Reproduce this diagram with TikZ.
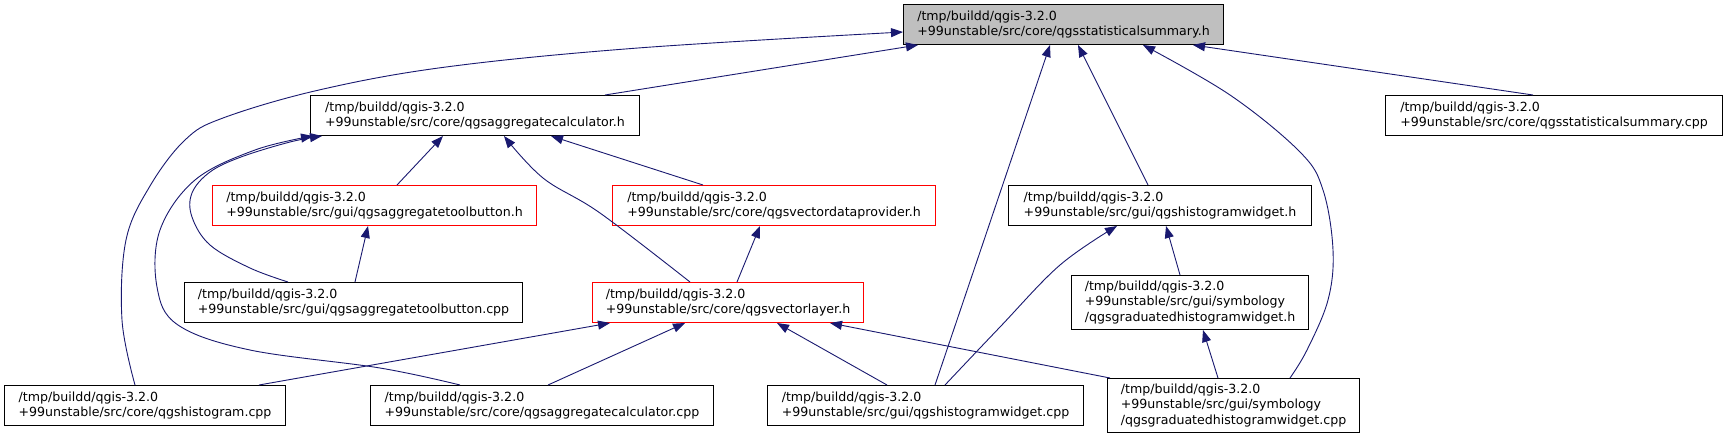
\documentclass[tikz,border=0pt]{standalone}
\usepackage{fontspec}
\setmainfont{DejaVu Sans}
\usetikzlibrary{arrows.meta}
\definecolor{edgec}{HTML}{191970}
\definecolor{rootfill}{HTML}{BFBFBF}
\begin{document}
\begin{tikzpicture}[x=1pt,y=-1pt,
  box/.style={draw=black, fill=white, line width=1pt, anchor=north west, align=left,
    inner xsep=12pt, inner ysep=2pt, font=\fontsize{12.6}{15.2}\selectfont},
  redbox/.style={box, draw=red},
  rootbox/.style={box, fill=rootfill},
  edge/.style={draw=edgec, line width=0.9pt, -{Triangle[length=12pt,width=9pt]}}]
\fill[white] (0,0) rectangle (1729,439);
\useasboundingbox (0,0) rectangle (1729,439);

\node[rootbox, minimum width=320pt, minimum height=40pt] (A) at (903,4) {/tmp/buildd/qgis-3.2.0\\+99unstable/src/core/qgsstatisticalsummary.h};
\node[box, minimum width=329pt, minimum height=40pt] (B) at (310,95) {/tmp/buildd/qgis-3.2.0\\+99unstable/src/core/qgsaggregatecalculator.h};
\node[box, minimum width=337pt, minimum height=40pt] (C) at (1385,95) {/tmp/buildd/qgis-3.2.0\\+99unstable/src/core/qgsstatisticalsummary.cpp};
\node[redbox, minimum width=324pt, minimum height=40pt] (D) at (212,185) {/tmp/buildd/qgis-3.2.0\\+99unstable/src/gui/qgsaggregatetoolbutton.h};
\node[redbox, minimum width=323pt, minimum height=40pt] (E) at (612,185) {/tmp/buildd/qgis-3.2.0\\+99unstable/src/core/qgsvectordataprovider.h};
\node[box, minimum width=303pt, minimum height=40pt] (F) at (1008,185) {/tmp/buildd/qgis-3.2.0\\+99unstable/src/gui/qgshistogramwidget.h};
\node[box, minimum width=338pt, minimum height=40pt] (G) at (184,282) {/tmp/buildd/qgis-3.2.0\\+99unstable/src/gui/qgsaggregatetoolbutton.cpp};
\node[redbox, minimum width=271pt, minimum height=40pt] (H) at (592,282) {/tmp/buildd/qgis-3.2.0\\+99unstable/src/core/qgsvectorlayer.h};
\node[box, minimum width=237pt, minimum height=54pt] (I) at (1071,275) {/tmp/buildd/qgis-3.2.0\\+99unstable/src/gui/symbology\\/qgsgraduatedhistogramwidget.h};
\node[box, minimum width=281pt, minimum height=40pt] (J) at (4,385) {/tmp/buildd/qgis-3.2.0\\+99unstable/src/core/qgshistogram.cpp};
\node[box, minimum width=343pt, minimum height=40pt] (K) at (370,385) {/tmp/buildd/qgis-3.2.0\\+99unstable/src/core/qgsaggregatecalculator.cpp};
\node[box, minimum width=316pt, minimum height=40pt] (L) at (767,385) {/tmp/buildd/qgis-3.2.0\\+99unstable/src/gui/qgshistogramwidget.cpp};
\node[box, minimum width=252pt, minimum height=54pt] (M) at (1107,378) {/tmp/buildd/qgis-3.2.0\\+99unstable/src/gui/symbology\\/qgsgraduatedhistogramwidget.cpp};

% into root
\draw[edge] ([xshift=295pt]B.north west) -- ([xshift=15pt]A.south west);
\draw[edge] plot[smooth, tension=0.6] coordinates {([xshift=131pt]J.north west) (122,320) (126,240) (150,186) (185,140) (223,118) (319,90) (446,67) (638,48) ([yshift=-28pt]A.north west)};
\draw[edge] ([xshift=148pt]C.north west) -- ([xshift=290pt]A.south west);
\draw[edge] ([xshift=140pt]F.north west) -- ([xshift=175pt]A.south west);
\draw[edge] ([xshift=168pt]L.north west) -- ([xshift=147pt]A.south west);
\draw[edge] plot[smooth, tension=0.6] coordinates {([xshift=183pt]M.north west) (1307,350) (1328,300) (1333,250) (1323,190) (1300,152) (1230,95) ([xshift=240pt]A.south west)};

% into aggregatecalculator.h
\draw[edge] ([xshift=185pt]D.north west) -- ([xshift=133pt]B.south west);
\draw[edge] plot[smooth, tension=0.6] coordinates {([xshift=104pt]G.north west) (250,268) (210,245) (192,217) (192,193) (210,172) (241,157) (290,142) ([xshift=12pt]B.south west)};
\draw[edge] plot[smooth, tension=0.6] coordinates {([xshift=90pt]K.north west) (380,368) (250,350) (178,325) (157,287) (160,230) (195,180) (255,150) ([xshift=3pt]B.south west)};
\draw[edge] plot[smooth, tension=0.6] coordinates {([xshift=98pt]H.north west) (600,213) (543,178) ([xshift=194pt]B.south west)};
\draw[edge] ([xshift=91pt]E.north west) -- ([xshift=241pt]B.south west);

% others
\draw[edge] ([xshift=145pt]H.north west) -- ([xshift=148pt]E.south west);
\draw[edge] ([xshift=255pt]J.north west) -- ([xshift=18pt]H.south west);
\draw[edge] ([xshift=178pt]K.north west) -- ([xshift=93pt]H.south west);
\draw[edge] ([xshift=120pt]L.north west) -- ([xshift=185pt]H.south west);
\draw[edge] ([xshift=3pt]M.north west) -- ([xshift=238pt]H.south west);
\draw[edge] plot[smooth, tension=0.6] coordinates {([xshift=178pt]L.north west) (1000,327) (1060,265) ([xshift=109pt]F.south west)};
\draw[edge] ([xshift=109pt]I.north west) -- ([xshift=158pt]F.south west);
\draw[edge] ([xshift=111pt]M.north west) -- ([xshift=132pt]I.south west);
\draw[edge] ([xshift=171pt]G.north west) -- ([xshift=156pt]D.south west);
\end{tikzpicture}
\end{document}
